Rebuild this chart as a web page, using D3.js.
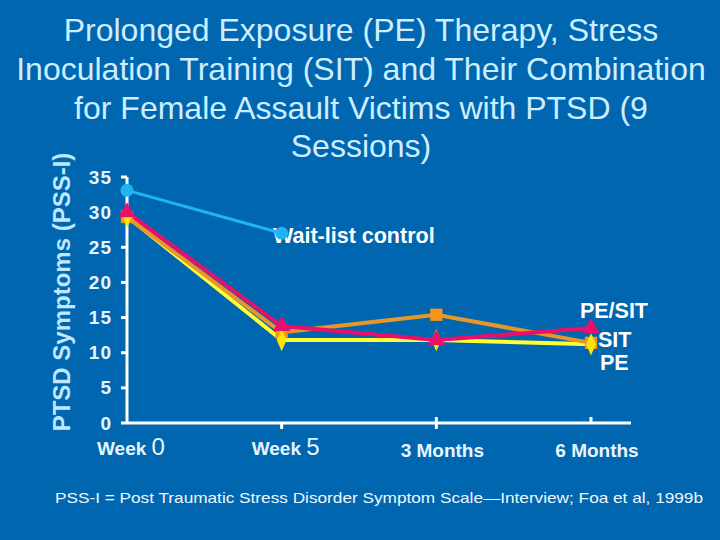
<!DOCTYPE html>
<html><head><meta charset="utf-8">
<script src="https://cdn.jsdelivr.net/npm/d3@7"></script>
<style>html,body{margin:0;padding:0;background:#0066B0;}svg{display:block;}</style>
</head><body>
<script>
const categories = ["Week 0", "Week 5", "3 Months", "6 Months"];
const waitList = [33.1, 27.0];
const peSit = [30.0, 13.8, 11.8, 13.5];
const sit = [29.3, 12.9, 15.4, 11.4];
const pe = [29.4, 11.8, 11.8, 11.2];
const yTicks = [0, 5, 10, 15, 20, 25, 30, 35];
const titleLines = ["Prolonged Exposure (PE) Therapy, Stress", "Inoculation Training (SIT) and Their Combination", "for Female Assault Victims with PTSD (9", "Sessions)"];

const W = 720, H = 540;
const svg = d3.select("body").append("svg").attr("width", W).attr("height", H);
svg.append("rect").attr("width", W).attr("height", H).attr("fill", "#0066B0");
const font = "'Liberation Sans', Arial, sans-serif";

// title
svg.append("g").selectAll("text").data(titleLines).join("text")
  .attr("x", 361).attr("y", (d, i) => 41 + i * 38.8)
  .attr("text-anchor", "middle").attr("font-family", font).attr("font-size", 32)
  .attr("fill", "#CCEEFF").text(d => d);

const x = d3.scalePoint().domain(categories).range([127, 591]);
const y = d3.scaleLinear().domain([0, 35]).range([423, 177]);

// axes
const ax = svg.append("g").attr("stroke", "#FFFFFF").attr("stroke-width", 3);
ax.append("line").attr("x1", 127).attr("x2", 127).attr("y1", y(35)).attr("y2", y(0));
ax.append("line").attr("x1", 127).attr("x2", 631).attr("y1", y(0)).attr("y2", y(0));
ax.selectAll(".yt").data(yTicks).join("line").attr("x1", 121).attr("x2", 127)
  .attr("y1", d => y(d)).attr("y2", d => y(d));
ax.selectAll(".xt").data(categories.slice(1)).join("line")
  .attr("x1", d => x(d)).attr("x2", d => x(d))
  .attr("y1", (d, i) => i === 0 ? y(0) : y(0) - 6).attr("y2", (d, i) => i === 2 ? y(0) : y(0) + 6);

svg.append("g").selectAll("text").data(yTicks).join("text")
  .attr("x", 112).attr("y", d => y(d) + 6.5).attr("text-anchor", "end")
  .attr("font-family", font).attr("font-weight", "bold").attr("font-size", 19)
  .attr("letter-spacing", 1)
  .attr("fill", "#E6F6FF").text(d => d);

// x labels
const xl = svg.append("g").attr("font-family", font).attr("font-weight", "bold").attr("fill", "#E6F6FF");
const xOff = [4, 4, 6, 6];
categories.forEach((c, i) => {
  const t = xl.append("text").attr("x", x(c) + xOff[i]).attr("y", i < 2 ? 455 : 457)
    .attr("text-anchor", "middle").attr("font-size", 19);
  if (c.startsWith("Week")) {
    t.append("tspan").text("Week ");
    t.append("tspan").attr("font-size", 24).attr("font-weight", "normal").text(c.split(" ")[1]);
  } else t.text(c);
});

// y axis title
svg.append("text").attr("transform", "translate(70,292) rotate(-90)")
  .attr("text-anchor", "middle").attr("font-family", font).attr("font-weight", "bold")
  .attr("font-size", 24).attr("fill", "#BFE8FF").text("PTSD Symptoms (PSS-I)");

const line = d3.line().x((d, i) => x(categories[i])).y(d => y(d));

// series labels
const sl = svg.append("g").attr("font-family", font).attr("font-weight", "bold")
  .attr("font-size", 21.5).attr("fill", "#FFFFFF");
sl.append("text").attr("x", 273).attr("y", 243).text("Wait-list control");
sl.append("text").attr("x", 648).attr("y", 318).attr("text-anchor", "end").text("PE/SIT");
sl.append("text").attr("x", 598).attr("y", 347).text("SIT");
sl.append("text").attr("x", 600).attr("y", 370).text("PE");

// series
function drawLine(data, color, w) {
  svg.append("path").datum(data).attr("d", line).attr("fill", "none")
    .attr("stroke", color).attr("stroke-width", w);
}
drawLine(pe, "#FFFF33", 4);
drawLine(sit, "#E8962A", 4);
drawLine(peSit, "#E8106A", 4);
drawLine(waitList, "#22B4F0", 3);

const sym = (type, size) => d3.symbol().type(type).size(size)();
svg.append("g").selectAll("path").data(sit).join("path")
  .attr("transform", (d, i) => `translate(${x(categories[i])},${y(d)})`)
  .attr("d", sym(d3.symbolSquare, 150)).attr("fill", "#F7941D");
svg.append("g").selectAll("path").data(pe).join("path")
  .attr("transform", (d, i) => `translate(${x(categories[i])},${y(d)}) scale(0.8,1.05)`)
  .attr("d", sym(d3.symbolDiamond, 130)).attr("fill", "#FFE600");
svg.append("g").selectAll("path").data(peSit).join("path")
  .attr("transform", (d, i) => `translate(${x(categories[i])},${y(d)})`)
  .attr("d", sym(d3.symbolTriangle, 130)).attr("fill", "#E8106A");
svg.append("g").selectAll("circle").data(waitList).join("circle")
  .attr("cx", (d, i) => x(categories[i])).attr("cy", d => y(d)).attr("r", 6.5)
  .attr("fill", "#22B4F0");

// footnote
svg.append("text").attr("x", 55).attr("y", 503).attr("font-family", font)
  .attr("font-size", 15).attr("fill", "#EEF8FF").attr("textLength", 648)
  .attr("lengthAdjust", "spacingAndGlyphs")
  .text("PSS-I = Post Traumatic Stress Disorder Symptom Scale\u2014Interview; Foa et al, 1999b");
</script>
</body></html>
